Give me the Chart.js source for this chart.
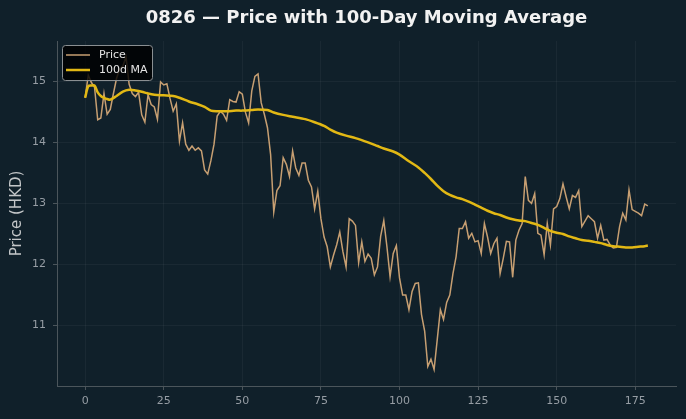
<!DOCTYPE html>
<html lang="en">
<head>
<meta charset="utf-8">
<title>0826 - Price with 100-Day Moving Average</title>
<script src="https://cdn.jsdelivr.net/npm/chart.js@4.4.1/dist/chart.umd.min.js"></script>
<style>
	html, body { margin: 0; padding: 0; background: #10202a; }
	#wrap { width: 686px; height: 419px; }
</style>
</head>
<body>
<div id="wrap"><canvas id="priceChart" width="686" height="419"></canvas></div>
<script>
	// daily closing price, day 0..179
	var price = [
		14.73, 15.10, 14.98, 14.90, 14.37, 14.40, 14.80, 14.46, 14.54, 14.80,
		15.05, 15.20, 15.25, 15.40, 14.95, 14.80, 14.75, 14.82, 14.45, 14.33,
		14.78, 14.62, 14.58, 14.38, 14.99, 14.94, 14.96, 14.72, 14.51, 14.63,
		14.02, 14.32, 13.97, 13.87, 13.94, 13.87, 13.91, 13.86, 13.55, 13.48,
		13.70, 13.97, 14.43, 14.51, 14.46, 14.36, 14.70, 14.67, 14.66, 14.83,
		14.79, 14.49, 14.32, 14.84, 15.08, 15.12, 14.65, 14.46, 14.24, 13.80,
		12.86, 13.21, 13.29, 13.75, 13.64, 13.44, 13.86, 13.58, 13.46, 13.66,
		13.66, 13.38, 13.27, 12.91, 13.20, 12.75, 12.45, 12.29, 11.96, 12.15,
		12.32, 12.53, 12.21, 11.96, 12.75, 12.71, 12.64, 12.03, 12.37, 12.05,
		12.17, 12.10, 11.83, 11.96, 12.46, 12.72, 12.29, 11.80, 12.18, 12.31,
		11.78, 11.50, 11.50, 11.26, 11.56, 11.69, 11.70, 11.18, 10.91, 10.33,
		10.45, 10.28, 10.77, 11.26, 11.10, 11.38, 11.50, 11.85, 12.13, 12.59,
		12.59, 12.70, 12.43, 12.51, 12.37, 12.39, 12.18, 12.67, 12.45, 12.18,
		12.34, 12.43, 11.85, 12.10, 12.38, 12.37, 11.79, 12.40, 12.56, 12.67,
		13.44, 13.05, 13.00, 13.16, 12.51, 12.48, 12.16, 12.67, 12.32, 12.91,
		12.95, 13.08, 13.32, 13.11, 12.91, 13.13, 13.10, 13.21, 12.62, 12.71,
		12.80, 12.75, 12.70, 12.43, 12.64, 12.40, 12.41, 12.32, 12.27, 12.28,
		12.62, 12.84, 12.73, 13.22, 12.90, 12.87, 12.84, 12.80, 12.99, 12.96
	];

	// 100-day moving average, read at these days
	var maDays = [0, 1, 2, 3, 4, 5, 6, 7, 8, 10, 12, 14, 16, 18, 20, 22, 25, 28, 30, 33,
		36, 38, 40, 42, 45, 48, 50, 53, 55, 58, 60, 63, 66, 70, 73, 76, 78, 80, 83, 86,
		90, 93, 95, 98, 100, 103, 106, 108, 110, 112, 114, 116, 118, 120, 122, 124, 126, 128, 130, 132,
		134, 136, 138, 140, 142, 144, 146, 148, 150, 152, 154, 156, 158, 160, 162, 164, 166, 168, 170, 172,
		174, 176, 178, 179];
	var maValues = [14.73, 14.92, 14.93, 14.93, 14.82, 14.76, 14.73, 14.71, 14.70, 14.76, 14.83, 14.86, 14.85, 14.83, 14.80, 14.78, 14.77, 14.76, 14.73, 14.67,
		14.62, 14.58, 14.52, 14.51, 14.51, 14.52, 14.52, 14.53, 14.54, 14.53, 14.49, 14.45, 14.42, 14.38, 14.33, 14.27, 14.21, 14.16, 14.11, 14.07,
		14.00, 13.94, 13.90, 13.85, 13.80, 13.69, 13.59, 13.50, 13.40, 13.29, 13.20, 13.14, 13.10, 13.07, 13.03, 12.98, 12.93, 12.88, 12.84, 12.81,
		12.77, 12.74, 12.72, 12.71, 12.68, 12.65, 12.60, 12.55, 12.52, 12.50, 12.46, 12.43, 12.40, 12.39, 12.37, 12.35, 12.32, 12.30, 12.29, 12.28,
		12.28, 12.29, 12.30, 12.31];

	var xTicks = [0, 25, 50, 75, 100, 125, 150, 175];
	var yTicks = [11, 12, 13, 14, 15];

	var priceColour = '#c79f72';
	var maColour = '#e2b814';
	var tickColour = '#969da4';
	var spineColour = '#4b555b';
	var gridColour = 'rgba(255,255,255,0.045)';

	// title centred over the plot area, and the boxed legend in its top left corner
	var decorPlugin = {
		id: 'decor',
		beforeDraw: function (chart) {
			var ctx = chart.ctx;
			ctx.save();
			ctx.fillStyle = '#10202a';
			ctx.fillRect(0, 0, chart.width, chart.height);
			ctx.restore();
		},
		afterDraw: function (chart) {
			var ctx = chart.ctx;
			var area = chart.chartArea;
			ctx.save();
			ctx.fillStyle = '#f2f2f2';
			ctx.font = 'bold 18px "DejaVu Sans"';
			ctx.textAlign = 'center';
			ctx.textBaseline = 'middle';
			ctx.fillText('0826 \u2014 Price with 100-Day Moving Average', (area.left + area.right) / 2, 18);

			// legend box
			var lx = area.left + 5, ly = area.top + 4, lw = 90, lh = 35;
			ctx.beginPath();
			ctx.roundRect(lx + 0.5, ly + 0.5, lw, lh, 3);
			ctx.fillStyle = 'rgba(0,0,0,0.82)';
			ctx.fill();
			ctx.strokeStyle = '#8a8f92';
			ctx.lineWidth = 1;
			ctx.stroke();

			ctx.lineCap = 'butt';
			ctx.strokeStyle = priceColour;
			ctx.lineWidth = 1.5;
			ctx.beginPath();
			ctx.moveTo(lx + 4, ly + 10);
			ctx.lineTo(lx + 28, ly + 10);
			ctx.stroke();
			ctx.strokeStyle = maColour;
			ctx.lineWidth = 2.5;
			ctx.beginPath();
			ctx.moveTo(lx + 4, ly + 25);
			ctx.lineTo(lx + 28, ly + 25);
			ctx.stroke();

			ctx.fillStyle = '#e4e4e4';
			ctx.font = '11px "DejaVu Sans"';
			ctx.textAlign = 'left';
			ctx.fillText('Price', lx + 37, ly + 10);
			ctx.fillText('100d MA', lx + 37, ly + 25);
			ctx.restore();
		}
	};

	var priceChart = new Chart('priceChart', {
		type: 'line',
		data: {
			datasets: [
				{
					label: 'Price',
					data: price.map(function (v, i) { return { x: i, y: v } }),
					borderColor: priceColour,
					borderWidth: 1.5,
					pointRadius: 0,
					tension: 0,
					order: 2
				},
				{
					label: '100d MA',
					data: maDays.map(function (d, i) { return { x: d, y: maValues[i] } }),
					borderColor: maColour,
					borderWidth: 2.5,
					pointRadius: 0,
					tension: 0.3,
					order: 1
				}
			]
		},
		options: {
			responsive: false,
			animation: false,
			layout: { padding: { top: 41, right: 10, left: 0, bottom: 0 } },
			plugins: {
				legend: { display: false },
				title: { display: false },
				tooltip: { enabled: false }
			},
			scales: {
				x: {
					type: 'linear',
					min: -8.95,
					max: 187.95,
					afterBuildTicks: function (scale) {
						scale.ticks = xTicks.map(function (v) { return { value: v } });
					},
					afterFit: function (scale) { scale.height = 33; },
					ticks: {
						color: tickColour,
						font: { family: 'DejaVu Sans', size: 11 },
						padding: 5,
						maxRotation: 0
					},
					grid: { color: gridColour, tickColor: spineColour, tickLength: 4 },
					border: { color: spineColour, width: 1 }
				},
				y: {
					type: 'linear',
					min: 10.01,
					max: 15.66,
					afterBuildTicks: function (scale) {
						scale.ticks = yTicks.map(function (v) { return { value: v } });
					},
					afterFit: function (scale) { scale.width = 57; },
					title: {
						display: true,
						text: 'Price (HKD)',
						color: '#c3c6c8',
						font: { family: 'DejaVu Sans', size: 15 },
						padding: { top: 8, bottom: 0 }
					},
					ticks: {
						color: tickColour,
						font: { family: 'DejaVu Sans', size: 11 },
						padding: 7
					},
					grid: { color: gridColour, tickColor: spineColour, tickLength: 4 },
					border: { color: spineColour, width: 1 }
				}
			}
		},
		plugins: [decorPlugin]
	});
</script>
</body>
</html>
